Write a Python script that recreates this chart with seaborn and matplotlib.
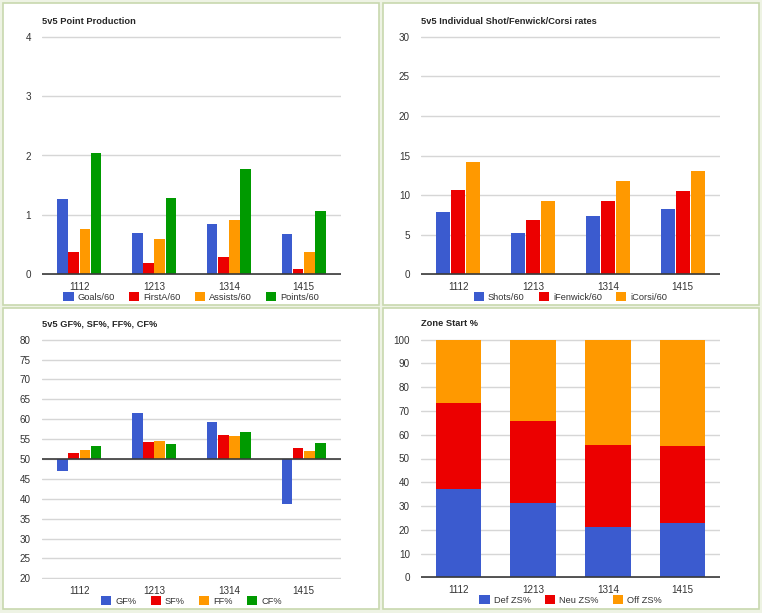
"""
Four-panel 5v5 player summary (Google-chart look) rebuilt with seaborn.
"""

import pandas as pd
import numpy as np
import matplotlib.pyplot as plt
import seaborn as sns
from matplotlib.patches import Patch, Rectangle

sns.set_style("white")
plt.rcParams['font.family'] = ['Liberation Sans', 'DejaVu Sans']
plt.rcParams['text.hinting'] = 'auto'

# ---- data ----
seasons = ['1112', '1213', '1314', '1415']

goals_60 = [1.27, 0.69, 0.84, 0.67]
firsta_60 = [0.37, 0.19, 0.29, 0.09]
assists_60 = [0.76, 0.59, 0.91, 0.37]
points_60 = [2.04, 1.28, 1.77, 1.06]

shots_60 = [7.9, 5.2, 7.3, 8.2]
ifenwick_60 = [10.7, 6.9, 9.2, 10.5]
icorsi_60 = [14.2, 9.2, 11.8, 13.1]

gf_pct = [46.9, 61.6, 59.2, 38.8]
sf_pct = [51.5, 54.2, 56.0, 52.7]
ff_pct = [52.3, 54.5, 55.8, 51.9]
cf_pct = [53.2, 53.8, 56.8, 54.0]

def_zs = [37.0, 31.1, 21.0, 22.7]
neu_zs = [36.4, 34.5, 34.6, 32.5]
off_zs = [26.6, 34.4, 44.4, 44.8]

BLUE = '#3b5bcf'
RED = '#ec0000'
ORANGE = '#ff9900'
GREEN = '#009a00'

W, H = 762, 613
FS = 7.1        # tick text
FS_LEG = 6.7
FS_TITLE = 6.7
GRID = '#d6d6d6'
BASE = '#3a3a3a'
TXT = '#333333'


def px_axes(fig, left, top, right, bottom):
    ax = fig.add_axes([left / W, 1 - bottom / H, (right - left) / W, (bottom - top) / H])
    ax.patch.set_alpha(0)
    return ax


def long_frame(series):
    rows = []
    for name, vals in series.items():
        for s, v in zip(seasons, vals):
            rows.append({'season': s, 'metric': name, 'value': v})
    return pd.DataFrame(rows)


def style_axes(ax, ticks, labels=None):
    ax.set_yticks(ticks)
    if labels is not None:
        ax.set_yticklabels(labels)
    eps = (ticks[-1] - ticks[0]) * 0.003
    ax.set_ylim(ticks[0] - eps, ticks[-1] + eps)
    ax.grid(True, axis='y', color=GRID, linewidth=1)
    ax.set_axisbelow(True)
    for sp in ax.spines.values():
        sp.set_visible(False)
    ax.tick_params(axis='both', length=0, labelsize=FS, colors=TXT)
    ax.tick_params(axis='y', pad=8)
    ax.tick_params(axis='x', pad=5)
    ax.set_xlabel('')
    ax.set_ylabel('')
    ax.set_xlim(-0.5, len(seasons) - 0.5)


def add_legend(fig, ax, names, colors, cx, cy):
    handles = [Patch(facecolor=c, edgecolor='none') for c in colors]
    ax.legend(handles, names, loc='center', bbox_to_anchor=(cx / W, 1 - cy / H),
              bbox_transform=fig.transFigure, ncol=len(names), frameon=False,
              fontsize=FS_LEG, handlelength=1.1, handleheight=1.1,
              handletextpad=0.45, columnspacing=1.5, borderaxespad=0,
              labelcolor=TXT)


def grouped(ax, series, colors):
    df = long_frame(series)
    sns.barplot(data=df, x='season', y='value', hue='metric', palette=colors,
                width=0.6, gap=0.06, linewidth=0, legend=False, ax=ax,
                errorbar=None, saturation=1)


fig = plt.figure(figsize=(W / 100, H / 100), dpi=100)
fig.patch.set_facecolor('#eef3e4')

# panel frames
for (x0, y0, x1, y1) in [(3, 3, 379, 305), (383, 3, 759, 305),
                         (3, 308, 379, 609), (383, 308, 759, 609)]:
    fig.patches.append(Rectangle((x0 / W, 1 - y1 / H), (x1 - x0) / W, (y1 - y0) / H,
                                 transform=fig.transFigure, facecolor='white',
                                 edgecolor='#c8d8ae', linewidth=1.2, zorder=-5))

# ---- 1: point production ----
ax1 = px_axes(fig, 42, 36, 341, 275)
names1 = ['Goals/60', 'FirstA/60', 'Assists/60', 'Points/60']
cols1 = [BLUE, RED, ORANGE, GREEN]
grouped(ax1, dict(zip(names1, [goals_60, firsta_60, assists_60, points_60])), cols1)
style_axes(ax1, [0, 1, 2, 3, 4])
ax1.axhline(0, color=BASE, linewidth=1.2, zorder=3)
add_legend(fig, ax1, names1, cols1, 191.5, 297)
fig.text(42 / W, 1 - 21 / H, '5v5 Point Production', fontsize=FS_TITLE, fontweight='bold',
         va='center', ha='left')

# ---- 2: individual shot rates ----
ax2 = px_axes(fig, 421, 36, 720, 275)
names2 = ['Shots/60', 'iFenwick/60', 'iCorsi/60']
cols2 = [BLUE, RED, ORANGE]
grouped(ax2, dict(zip(names2, [shots_60, ifenwick_60, icorsi_60])), cols2)
style_axes(ax2, [0, 5, 10, 15, 20, 25, 30])
ax2.axhline(0, color=BASE, linewidth=1.2, zorder=3)
add_legend(fig, ax2, names2, cols2, 570.5, 297)
fig.text(421 / W, 1 - 21 / H, '5v5 Individual Shot/Fenwick/Corsi rates', fontsize=FS_TITLE,
         fontweight='bold', va='center', ha='left')

# ---- 3: on-ice percentages (bars grow from 50) ----
ax3 = px_axes(fig, 42, 339, 341, 579)
names3 = ['GF%', 'SF%', 'FF%', 'CF%']
cols3 = [BLUE, RED, ORANGE, GREEN]
pct = [gf_pct, sf_pct, ff_pct, cf_pct]
grouped(ax3, dict(zip(names3, [list(np.array(p) - 50) for p in pct])), cols3)
ticks3 = list(range(-30, 31, 5))
style_axes(ax3, ticks3, [str(t + 50) for t in ticks3])
ax3.axhline(0, color=BASE, linewidth=1.2, zorder=3)
add_legend(fig, ax3, names3, cols3, 191.5, 601)
fig.text(42 / W, 1 - 324 / H, '5v5 GF%, SF%, FF%, CF%', fontsize=FS_TITLE, fontweight='bold',
         va='center', ha='left')

# ---- 4: zone starts (stacked) ----
ax4 = px_axes(fig, 421, 339, 720, 578)
names4 = ['Def ZS%', 'Neu ZS%', 'Off ZS%']
cols4 = [BLUE, RED, ORANGE]
zs = pd.DataFrame({'season': seasons, 'def': def_zs, 'neu': neu_zs, 'off': off_zs})
zs['top_neu'] = zs['def'] + zs['neu']
zs['top_off'] = zs['top_neu'] + zs['off']
for col, c in [('top_off', ORANGE), ('top_neu', RED), ('def', BLUE)]:
    sns.barplot(data=zs, x='season', y=col, color=c, width=0.61, linewidth=0,
                errorbar=None, saturation=1, ax=ax4)
style_axes(ax4, list(range(0, 101, 10)))
ax4.axhline(0, color=BASE, linewidth=1.2, zorder=3)
add_legend(fig, ax4, names4, cols4, 570.5, 600)
fig.text(421 / W, 1 - 324 / H, 'Zone Start %', fontsize=FS_TITLE, fontweight='bold',
         va='center', ha='left')

fig.savefig('out.png', dpi=100, facecolor=fig.get_facecolor())
plt.close(fig)
